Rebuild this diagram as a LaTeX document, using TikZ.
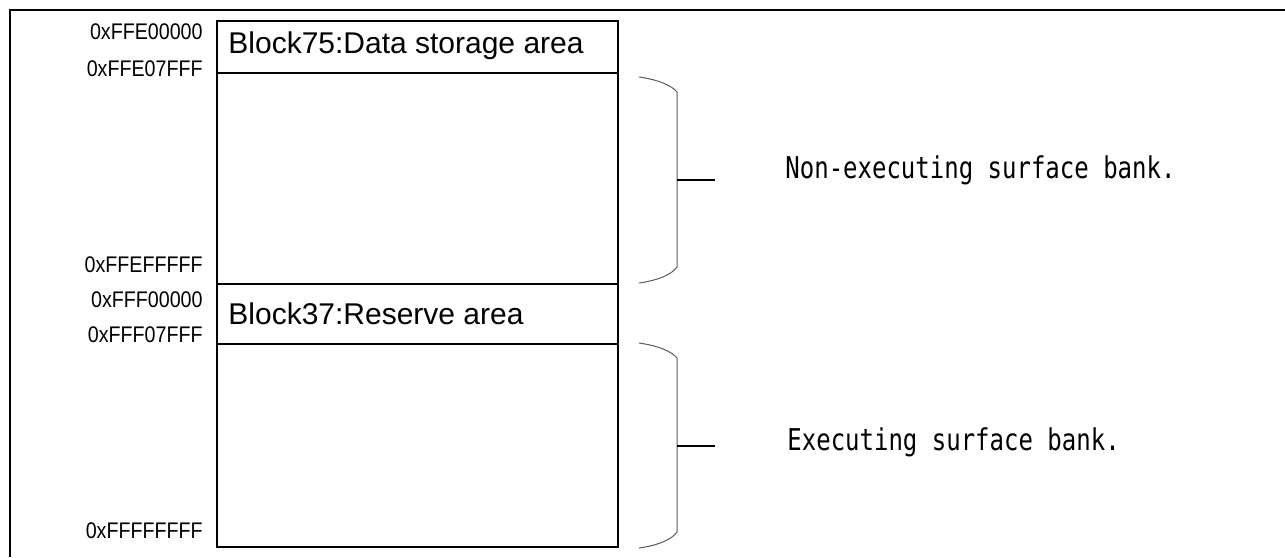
\documentclass[tikz,border=0pt]{standalone}
\usepackage{fontspec}
\setmainfont{Liberation Sans}
\newfontfamily\addrfont[FakeStretch=0.87]{Liberation Sans}
\newfontfamily\bankfont[FakeStretch=0.8]{DejaVu Sans Mono}
\usepackage{tikz}

\begin{document}
\begin{tikzpicture}[x=0.5pt,y=-0.5pt,
	areabox/.style={draw=black,line width=0.9pt,minimum width=200.5pt,inner sep=0pt,outer sep=0pt},
	areatext/.style={anchor=west,font=\fontsize{15}{17}\selectfont,inner sep=0pt},
	addr/.style={anchor=east,font=\addrfont\fontsize{11.3}{13}\selectfont,inner sep=0pt},
	banktext/.style={anchor=west,font=\bankfont\fontsize{15}{17}\selectfont,inner sep=0pt},
	brace/.style={draw=black!65,line width=0.5pt},
	tick/.style={draw=black,line width=0.6pt}]
			\useasboundingbox (0,0) rectangle (1285,557);
			% outer frame (cut by the page)
			\draw [black,line width=1pt] (10,557) -- (10,10) -- (1285,10);
			% memory blocks
			\node [areabox,minimum height=26pt] (blk75) at (417.5,47) {};
			\node [areabox,minimum height=105.5pt] (nonexec) at (417.5,178.5) {};
			\node [areabox,minimum height=30pt] (blk37) at (417.5,314) {};
			\node [areabox,minimum height=101.5pt] (exec) at (417.5,445.5) {};
			\node [areatext] (blk75text) at (228,46) {Block75:Data storage area};
			\node [areatext] (blk37text) at (228,314) {Block37:Reserve area};
			% addresses
			\node [addr] (a1) at (203,32) {0xFFE00000};
			\node [addr] (a2) at (203,69) {0xFFE07FFF};
			\node [addr] (a3) at (203,265) {0xFFEFFFFF};
			\node [addr] (a4) at (203,299.5) {0xFFF00000};
			\node [addr] (a5) at (203,334.5) {0xFFF07FFF};
			\node [addr] (a6) at (203,531) {0xFFFFFFFF};
			% braces
			\coordinate (nb1) at (639,77);
			\coordinate (nb2) at (677,92);
			\coordinate (nb3) at (677,267);
			\coordinate (nb4) at (639,283);
			\coordinate (nmid) at (677,180);
			\coordinate (ntick) at (715,180);
			\draw [brace] (nb1) .. controls (660,80) and (672,86) .. (nb2) -- (nb3) .. controls (672,274) and (660,280) .. (nb4);
			\draw [tick] (nmid) -- (ntick);
			\coordinate (eb1) at (639,343);
			\coordinate (eb2) at (677,358);
			\coordinate (eb3) at (677,532);
			\coordinate (eb4) at (639,548);
			\coordinate (emid) at (677,446);
			\coordinate (etick) at (715,446);
			\draw [brace] (eb1) .. controls (660,346) and (672,352) .. (eb2) -- (eb3) .. controls (672,539) and (660,545) .. (eb4);
			\draw [tick] (emid) -- (etick);
			\node [banktext] (nonexectext) at (785,170.5) {Non-executing surface bank.};
			\node [banktext] (exectext) at (787,442) {Executing surface bank.};
\end{tikzpicture}
\end{document}
